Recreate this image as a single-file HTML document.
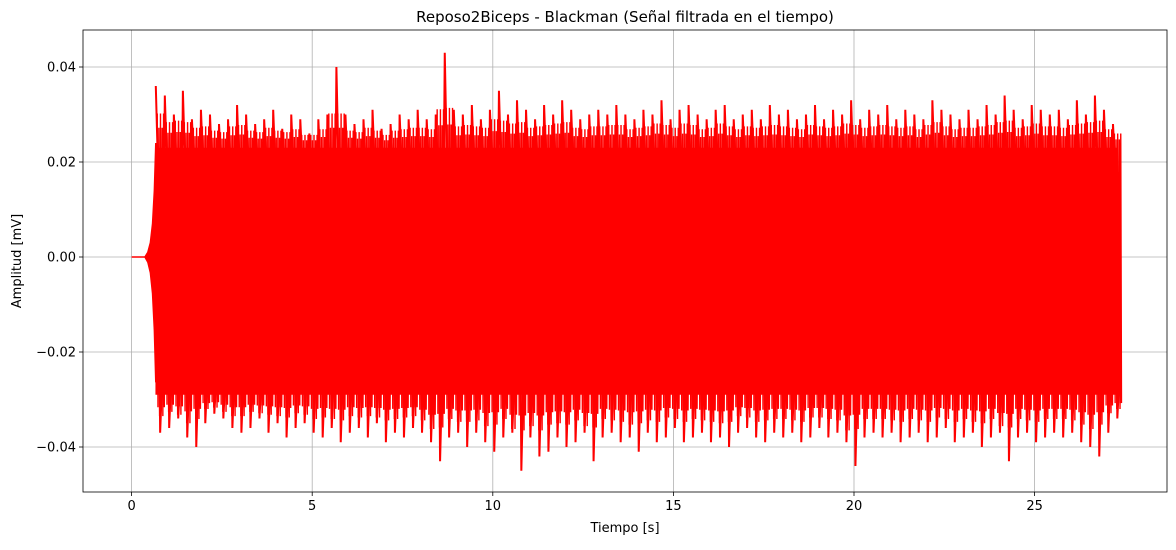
<!DOCTYPE html>
<html><head><meta charset="utf-8"><style>
body{margin:0;background:#fff;font-family:"Liberation Sans","DejaVu Sans",sans-serif;}
svg text{font-family:"DejaVu Sans","Liberation Sans",sans-serif;font-size:13px;fill:#000}
</style></head><body>
<svg id="chart" width="1176" height="545"></svg>
<script>
const upper=[36,34,30,35,29,31,30,28,29,32,30,28,29,31,27,30,29,26,29,30,40,30,28,29,31,27,28,30,29,31,29,30,43,31,30,32,29,31,35,30,33,31,29,32,30,33,31,29,30,31,30,32,30,29,31,30,33,29,31,32,30,29,31,32,29,30,31,29,32,30,31,29,30,32,29,31,30,33,29,31,30,32,29,31,30,29,33,31,30,29,31,29,32,30,34,31,29,32,31,30,31,29,33,30,34,31,28];
const lower=[-37,-36,-34,-38,-40,-35,-33,-34,-36,-37,-36,-34,-37,-35,-38,-36,-35,-37,-38,-36,-39,-37,-36,-38,-35,-39,-37,-38,-36,-37,-39,-43,-38,-37,-40,-37,-39,-41,-38,-37,-45,-38,-42,-41,-38,-40,-39,-37,-43,-38,-37,-39,-38,-41,-37,-39,-38,-36,-39,-38,-37,-39,-38,-40,-37,-36,-38,-39,-37,-38,-37,-39,-38,-36,-38,-37,-39,-44,-38,-37,-38,-37,-39,-38,-37,-39,-38,-36,-39,-38,-37,-40,-38,-37,-43,-38,-37,-39,-38,-37,-38,-37,-39,-40,-42,-37,-34];
const binStart=0.75, binStep=0.25;
const rampT=[0,0.37,0.45,0.52,0.58,0.63,0.67];
const rampA=[0,0,1,3,7,14,24];
const xTicks=[0,5,10,15,20,25];
const yTicks=[0.04,0.02,0.00,-0.02,-0.04];
const yLabels=["0.04","0.02","0.00","\u22120.02","\u22120.04"];
const coreTop=23, coreBot=-29, endT=27.3;

const L=83,R=1167,T=30,B=492;
const X=t=>131.6+t*36.12;
const Y=v=>257-v*4750;
const mv=v=>v/1000;
const svg=document.getElementById('chart');
const NS='http://www.w3.org/2000/svg';
function mk(tag,attrs,parent){const e=document.createElementNS(NS,tag);for(const k in attrs)e.setAttribute(k,attrs[k]);(parent||svg).appendChild(e);return e;}

xTicks.forEach(t=>{const l=mk('line',{x1:X(t),x2:X(t),y1:T,y2:B,stroke:'#b0b0b0','stroke-width':0.8});
});
yTicks.forEach(v=>{const l=mk('line',{x1:L,x2:R,y1:Y(v),y2:Y(v),stroke:'#b0b0b0','stroke-width':0.8});
});

const g=mk('g',{});


let d='M'+X(rampT[0])+','+Y(0);
for(let i=1;i<rampT.length;i++){d+=' L'+X(rampT[i])+','+Y(mv(rampA[i]));}
for(let i=rampT.length-1;i>=0;i--){d+=' L'+X(rampT[i])+','+Y(mv(-rampA[i]*1.1));}
const ramp=mk('path',{d:d+'Z',fill:'#ff0000',stroke:'#ff0000','stroke-width':1.5},g);


const core=mk('rect',{x:X(0.66),y:Y(mv(coreTop)),width:X(endT)-X(0.66),height:Y(mv(coreBot))-Y(mv(coreTop)),fill:'#ff0000'},g);


// secondary "grass" spikes between main peaks
let s='';
const n=upper.length;
for(let i=0;i<n;i++){
  const nu=upper[Math.min(i+1,n-1)], nl=lower[Math.min(i+1,n-1)];
  const t=binStart+i*binStep-0.08;
  const offs=[0.04,0.085,0.13,0.175,0.215];
  offs.forEach((o,k)=>{
    const hu=coreTop+((upper[i]+nu)/2-coreTop)*(k%2?0.35:0.6);
    const hl=coreBot+((lower[i]+nl)/2-coreBot)*(k%2?0.6:0.35);
    s+=(s?' L':'M')+X(t+o)+','+Y(mv(hu))+' L'+X(t+o+0.02)+','+Y(mv(hl));
  });
}
const gr=mk('path',{d:s,fill:'none',stroke:'#ff0000','stroke-width':1.4},g);


let z='';
for(let i=0;i<n;i++){
  const t=binStart+i*binStep-0.08;
  z+=(i?' L':'M')+X(t)+','+Y(mv(upper[i]))+' L'+X(t+0.06)+','+Y(mv(coreTop-4))+' L'+X(t+0.12)+','+Y(mv(lower[i]))+' L'+X(t+0.18)+','+Y(mv(coreBot+4));
}
z+=' L'+X(endT)+','+Y(mv(15))+' L'+X(endT)+','+Y(mv(-15));
const zz=mk('path',{d:z,fill:'none',stroke:'#ff0000','stroke-width':2},g);



const f=mk('rect',{x:L,y:T,width:R-L,height:B-T,fill:'none',stroke:'#000','stroke-width':0.8});


xTicks.forEach(t=>{
  const tk=mk('line',{x1:X(t),x2:X(t),y1:B,y2:B+4,stroke:'#000','stroke-width':0.8});
  
  const tx=mk('text',{x:X(t),y:B+18,'text-anchor':'middle'});tx.textContent=t;
  
});
yTicks.forEach((v,i)=>{
  const tk=mk('line',{x1:L-4,x2:L,y1:Y(v),y2:Y(v),stroke:'#000','stroke-width':0.8});
  
  const tx=mk('text',{x:L-7,y:Y(v)+4.5,'text-anchor':'end'});tx.textContent=yLabels[i];
  
});
const xt=mk('text',{x:(L+R)/2,y:532,'text-anchor':'middle'});xt.textContent='Tiempo [s]';

const yt=mk('text',{x:0,y:0,'text-anchor':'middle',transform:'translate(21,261) rotate(-90)'});yt.textContent='Amplitud [mV]';

const tt=mk('text',{x:(L+R)/2,y:22,'text-anchor':'middle',style:'font-size:15px'});tt.textContent='Reposo2Biceps - Blackman (Señal filtrada en el tiempo)';

</script>
</body></html>
